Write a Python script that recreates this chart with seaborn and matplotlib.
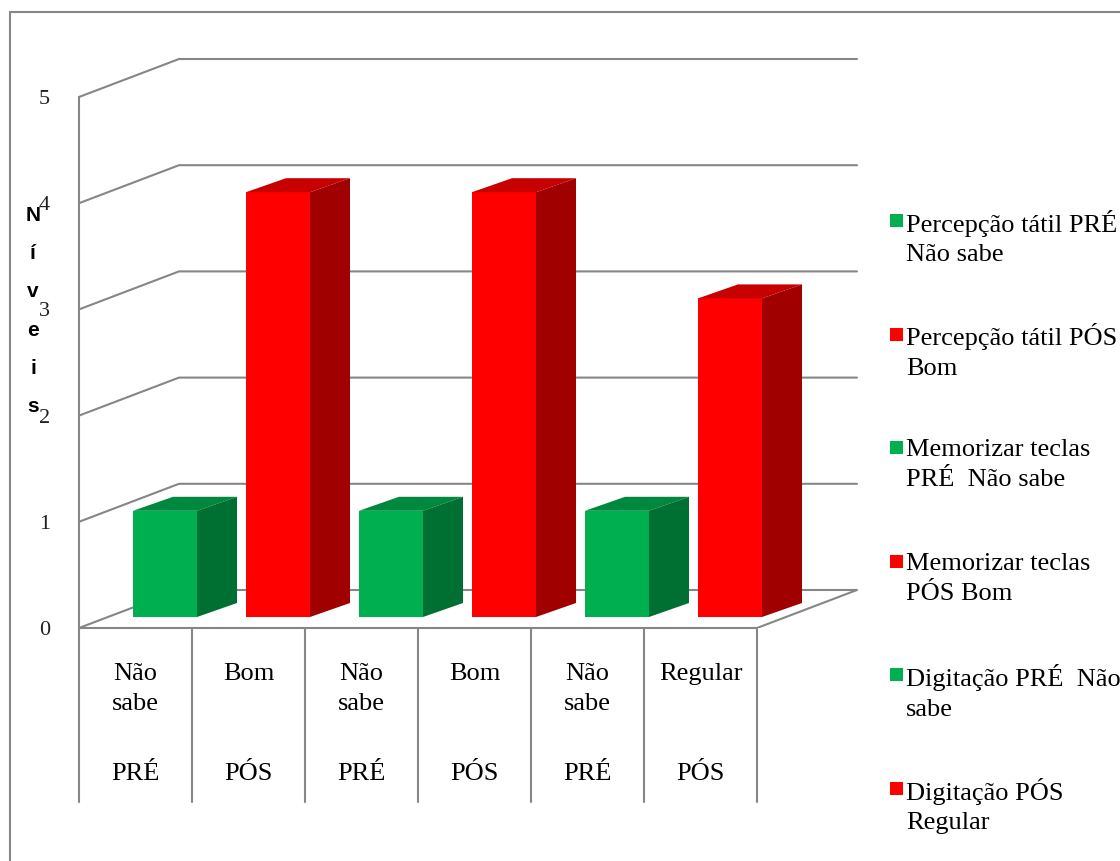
import matplotlib
matplotlib.use("Agg")
import numpy as np
import pandas as pd
import matplotlib.pyplot as plt
from matplotlib.patches import Polygon, Rectangle
import seaborn as sns

# dados
series = ["Percepção tátil PRÉ\nNão sabe", "Percepção tátil PÓS\nBom",
          "Memorizar teclas\nPRÉ  Não sabe", "Memorizar teclas\nPÓS Bom",
          "Digitação PRÉ  Não\nsabe", "Digitação PÓS\nRegular"]
niveis = [1, 4, 1, 4, 1, 3]
rotulos = ["Não\nsabe", "Bom", "Não\nsabe", "Bom", "Não\nsabe", "Regular"]
fases = ["PRÉ", "PÓS", "PRÉ", "PÓS", "PRÉ", "PÓS"]
cores = ["#00B050", "#FF0000", "#00B050", "#FF0000", "#00B050", "#FF0000"]
yticks = [0, 1, 2, 3, 4, 5]

sns.set_style("white")
plt.rcParams['font.family'] = ['Liberation Serif', 'DejaVu Serif']
plt.rcParams['text.color'] = 'black'
plt.rcParams['axes.labelcolor'] = 'black'

W, H = 1120, 861
fig = plt.figure(figsize=(W / 100, H / 100), dpi=100)

# axes = plano frontal do grafico 3d
px_cat, px_un = 113.0, 106.2
ax = fig.add_axes([79 / W, (H - 628) / H, 778 / W, 571 / H])

DX, DY = 100 / px_cat, 38 / px_un      # profundidade total
OX, OY = 29.5 / px_cat, 11 / px_un     # posicao da face frontal das barras
BX, BY = 40 / px_cat, 14 / px_un       # profundidade das barras

df = pd.DataFrame({"serie": series, "nivel": niveis})
sns.barplot(data=df, x="serie", y="nivel", hue="serie", palette=cores,
            width=64 / px_cat, saturation=1, legend=False, linewidth=0,
            zorder=3, ax=ax)

xmin = -0.5
xmax = xmin + 778 / px_cat
n = len(series)
grid = "#868686"
fs = 19

# paredes / grade
for v in yticks:
    ax.plot([xmin, xmin + DX, xmax], [v, v + DY, v + DY], color=grid, lw=1.5,
            zorder=1, solid_joinstyle="miter", clip_on=False)
ax.plot([xmin, xmin], [0, yticks[-1]], color=grid, lw=1.5, zorder=1, clip_on=False)
ax.plot([n - 0.5, n - 0.5 + DX], [0, DY], color=grid, lw=1.5, zorder=1)
ax.plot([xmin, n - 0.5], [0, 0], color=grid, lw=1.5, zorder=2, clip_on=False)

# barras em 3d
def escurecer(c, f):
    r, g, b = matplotlib.colors.to_rgb(c)
    return (r * f, g * f, b * f)

bars = sorted(ax.patches, key=lambda p: p.get_x())
for p, c in zip(bars, cores):
    p.set_x(p.get_x() + OX)
    p.set_y(OY)
    x0, x1 = p.get_x(), p.get_x() + p.get_width()
    y0, y1 = OY, OY + p.get_height()
    topo = Polygon([(x0, y1), (x0 + BX, y1 + BY), (x1 + BX, y1 + BY), (x1, y1)],
                   closed=True, facecolor=escurecer(c, 0.78), edgecolor="none", zorder=3)
    lado = Polygon([(x1, y0), (x1 + BX, y0 + BY), (x1 + BX, y1 + BY), (x1, y1)],
                   closed=True, facecolor=escurecer(c, 0.63), edgecolor="none", zorder=3)
    ax.add_patch(topo)
    ax.add_patch(lado)

ax.set_xlim(xmin, xmax)
ax.set_ylim(0, 571 / px_un)
for s in ax.spines.values():
    s.set_visible(False)
ax.set_xlabel("")
ax.tick_params(axis="x", bottom=False, labelbottom=False)
ax.set_yticks(yticks)
ax.set_yticklabels([str(v) for v in yticks], fontsize=16, color="#202020")
ax.tick_params(axis="y", length=0, pad=21)

ax.set_ylabel("\n".join("Níveis"), rotation=0, fontsize=15, fontweight="bold",
              family=["Liberation Sans", "DejaVu Sans"], linespacing=2.27,
              ha="center", va="center", color="black")
ax.yaxis.set_label_coords((33 - 79) / 778, (628 - 311) / 571)

# tabela abaixo do eixo
fundo = -174 / px_un
for i in range(n + 1):
    ax.plot([i - 0.5, i - 0.5], [0, fundo], color=grid, lw=1.5, clip_on=False)
for i in range(n):
    ax.text(i, -(663 - 628) / px_un, rotulos[i], ha="center", va="top",
            fontsize=fs, linespacing=1.45, color="black")
    ax.text(i, -(774 - 628) / px_un, fases[i], ha="center", va="center",
            fontsize=fs, color="black")

# legenda
for i, (s, c) in enumerate(zip(series, cores)):
    yc = 220 + 113.6 * i
    fig.add_artist(Rectangle((890 / W, 1 - (yc + 7) / H), 13 / W, 13 / H,
                             transform=fig.transFigure, facecolor=c, edgecolor="none"))
    fig.text(906 / W, 1 - (yc + 18) / H, s, ha="left", va="center",
             fontsize=fs, linespacing=1.45, color="black")

# borda externa
fig.add_artist(Rectangle((10 / W, -0.05), 1.2, 1.05 - 12 / H, transform=fig.transFigure,
                         fill=False, edgecolor=grid, lw=1.5))

fig.savefig("out.png", dpi=100)
